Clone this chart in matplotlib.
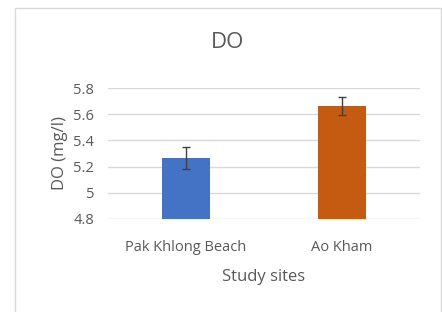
import matplotlib.pyplot as plt
from matplotlib.patches import Rectangle

sites = ["Pak Khlong Beach", "Ao Kham"]
do_mean = [5.265, 5.665]
do_err = [0.085, 0.07]
bar_colors = ["#4472C4", "#C55A11"]
yticks = [4.8, 5.0, 5.2, 5.4, 5.6, 5.8]
ytick_labels = ["4.8", "5", "5.2", "5.4", "5.6", "5.8"]

plt.rcParams["font.family"] = ["Open Sans", "DejaVu Sans"]
txt = "#595959"

fig = plt.figure(figsize=(4.42, 3.12), dpi=100)
# chart frame
fig.patches.append(Rectangle((15 / 442, -0.05), 426 / 442, 1 - 8 / 312 + 0.05,
                             transform=fig.transFigure, fill=False,
                             edgecolor="#d9d9d9", linewidth=1))

ax = fig.add_axes([108 / 442, 1 - 219 / 312, 312 / 442, 131 / 312])
x = list(range(len(sites)))
ax.bar(x, [m - 4.8 for m in do_mean], bottom=4.8, width=0.31, color=bar_colors, zorder=2)
ax.errorbar(x, do_mean, yerr=do_err, fmt="none", ecolor="#404040",
            elinewidth=1, capsize=3, capthick=1, zorder=3)

ax.set_xlim(-0.5, 1.5)
ax.set_ylim(4.8, 5.8)
ax.set_yticks(yticks)
ax.set_yticklabels(ytick_labels)
ax.set_xticks(x)
ax.set_xticklabels(sites)
ax.yaxis.grid(True, color="#d9d9d9", linewidth=1, zorder=0)
ax.set_axisbelow(True)
for s in ax.spines.values():
    s.set_visible(False)
ax.tick_params(length=0, colors=txt, labelsize=10.5)
ax.tick_params(axis="y", pad=10)
ax.tick_params(axis="x", pad=15)

ax.set_ylabel("DO (mg/l)", color=txt, fontsize=12, labelpad=4)
ax.set_xlabel("Study sites", color=txt, fontsize=12, labelpad=10)
fig.text(228 / 442, 1 - 43 / 312, "DO", ha="center", va="center", color=txt, fontsize=16)

fig.savefig("out.png", dpi=100)
